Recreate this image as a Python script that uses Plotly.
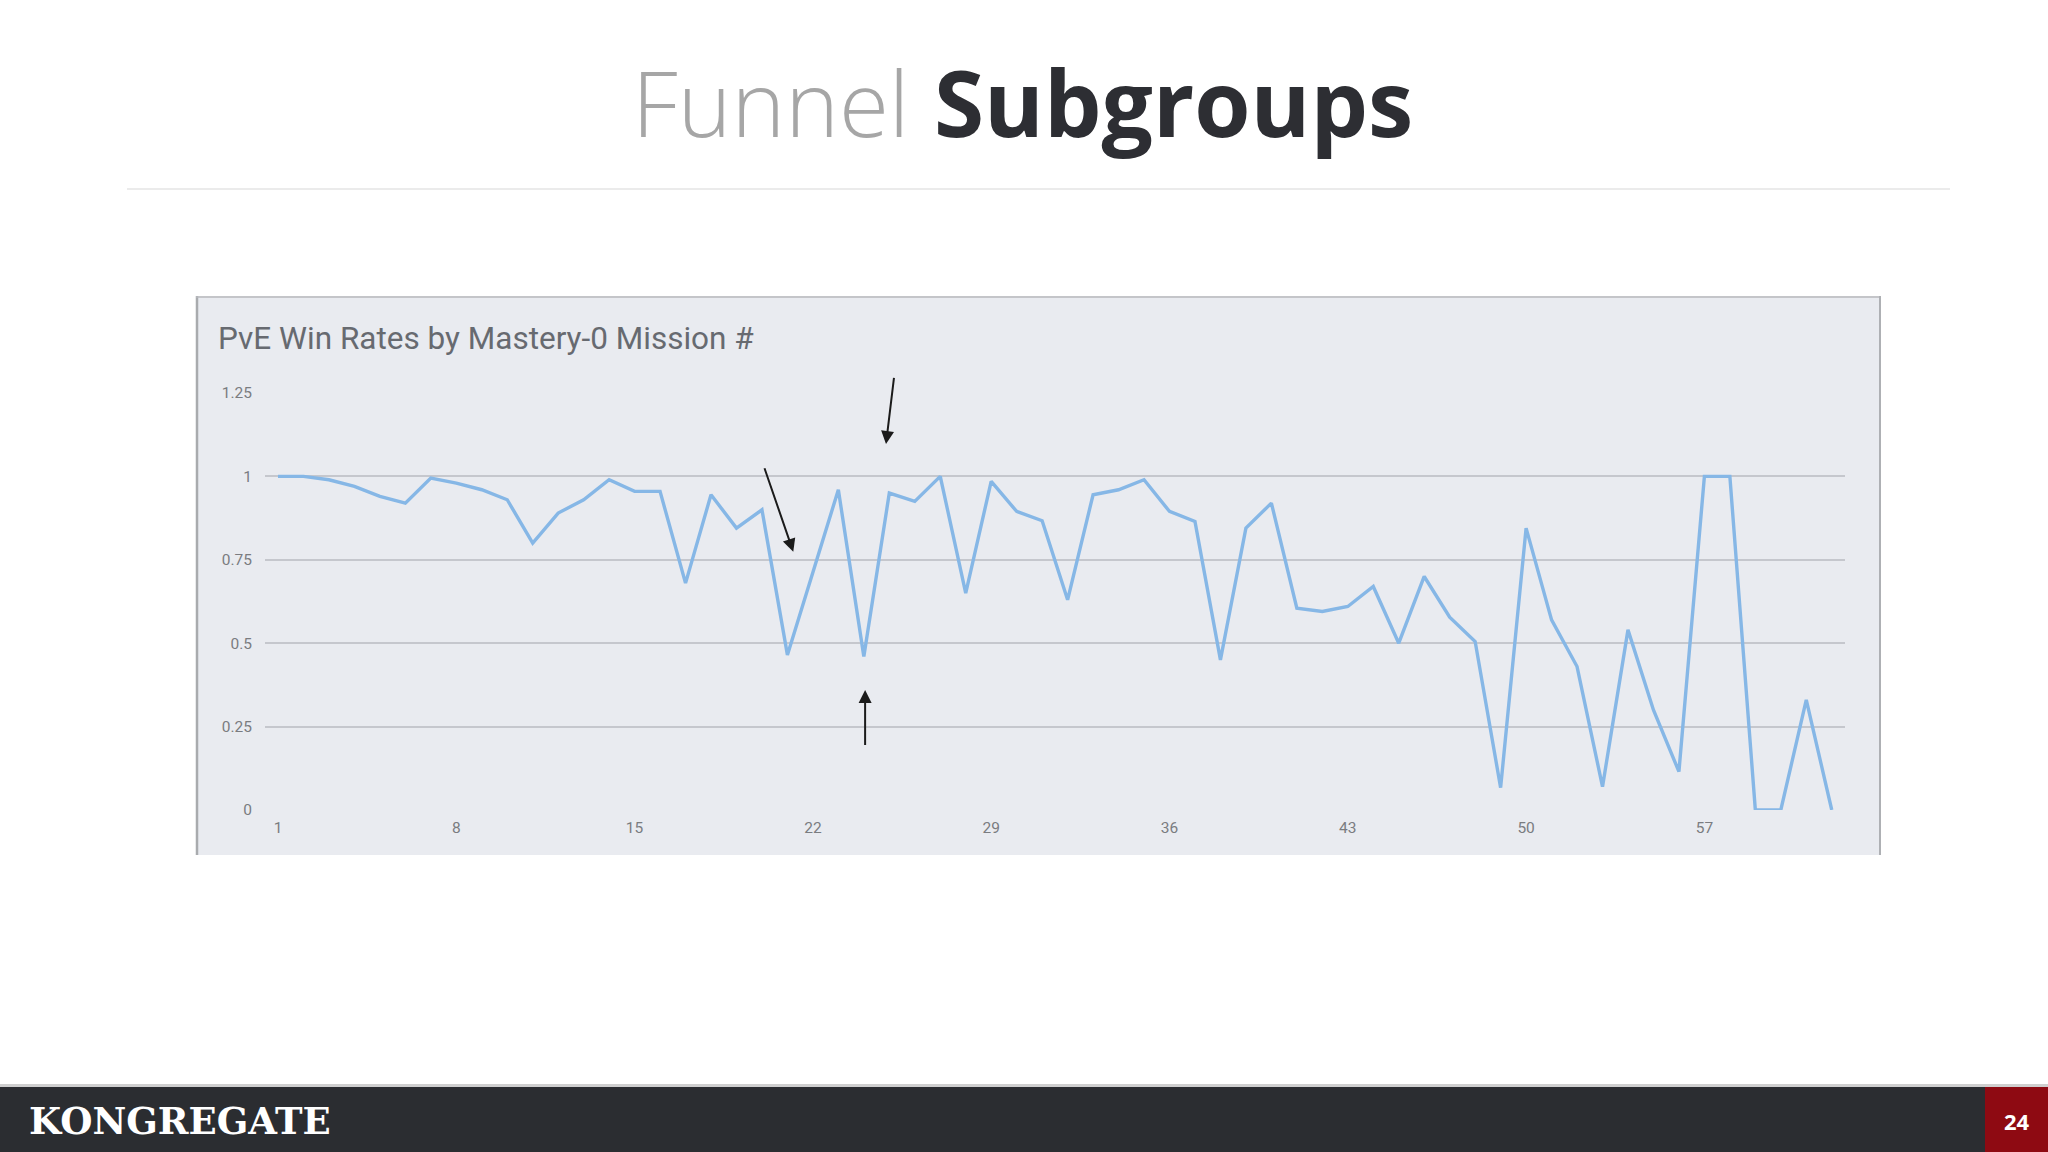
import plotly.graph_objects as go

W, H = 2048, 1152

missions = list(range(1, 63))
win_rate = [
    1.00, 1.00, 0.99, 0.97, 0.94, 0.92, 0.995, 0.98, 0.96, 0.93,
    0.80, 0.89, 0.93, 0.99, 0.955, 0.955, 0.68, 0.945, 0.845, 0.90,
    0.465, 0.71, 0.96, 0.46, 0.95, 0.925, 1.00, 0.65, 0.985, 0.895,
    0.867, 0.63, 0.945, 0.96, 0.99, 0.895, 0.865, 0.45, 0.845, 0.92,
    0.605, 0.595, 0.61, 0.67, 0.50, 0.70, 0.578, 0.505, 0.067, 0.845,
    0.57, 0.43, 0.07, 0.54, 0.30, 0.115, 1.00, 1.00, 0.0, 0.0,
    0.33, 0.0,
]
x_ticks = [1, 8, 15, 22, 29, 36, 43, 50, 57]
y_ticks = [0, 0.25, 0.5, 0.75, 1, 1.25]
y_tick_text = ["0", "0.25", "0.5", "0.75", "1", "1.25"]

# arrows: (head mission, head value, tail mission, tail value)
arrows = [
    (21.23, 0.774, 20.08, 1.029),
    (24.87, 1.097, 25.19, 1.30),
    (24.05, 0.36, 24.05, 0.19),
]

# plot area in pixels
L, R, T, B = 265, 1845, 393, 810
ML, MR, MT, MB = L, W - R, T, H - B


def px(x):
    return (x - L) / (R - L)


def py(y):
    return (B - y) / (B - T)


fig = go.Figure()
fig.add_trace(go.Scatter(
    x=missions, y=win_rate, mode="lines",
    line=dict(color="#86b7e6", width=3.4),
    cliponaxis=False, hoverinfo="x+y",
))

shapes = [
    # chart card
    dict(type="rect", xref="paper", yref="paper", x0=px(196), x1=px(1880), y0=py(855), y1=py(296),
         fillcolor="#e9ebf0", line=dict(width=0), layer="below"),
    dict(type="line", xref="paper", yref="paper", x0=px(197), x1=px(197), y0=py(855), y1=py(296),
         line=dict(color="#a9abae", width=2.5), layer="below"),
    dict(type="line", xref="paper", yref="paper", x0=px(196), x1=px(1880), y0=py(297), y1=py(297),
         line=dict(color="#b7b9bd", width=1.5), layer="below"),
    dict(type="line", xref="paper", yref="paper", x0=px(1880), x1=px(1880), y0=py(855), y1=py(296),
         line=dict(color="#aeb0b4", width=2), layer="below"),
    # header divider
    dict(type="line", xref="paper", yref="paper", x0=px(127), x1=px(1950), y0=py(189), y1=py(189),
         line=dict(color="#ebebeb", width=2), layer="below"),
    # footer
    dict(type="rect", xref="paper", yref="paper", x0=px(0), x1=px(W), y0=py(H), y1=py(1087),
         fillcolor="#2b2d31", line=dict(width=0), layer="below"),
    dict(type="rect", xref="paper", yref="paper", x0=px(0), x1=px(W), y0=py(1087), y1=py(1084),
         fillcolor="#cfcfcf", line=dict(width=0), layer="below"),
    dict(type="rect", xref="paper", yref="paper", x0=px(1985), x1=px(W), y0=py(H), y1=py(1087),
         fillcolor="#8e0a12", line=dict(width=0), layer="below"),
]

annotations = [
    dict(text="Funnel", xref="paper", yref="paper", x=px(911), y=py(102), xanchor="right", yanchor="middle",
         showarrow=False, font=dict(family="Open Sans", size=91, color="#a6a6a6", weight=300)),
    dict(text="<b>Subgroups</b>", xref="paper", yref="paper", x=px(932), y=py(102), xanchor="left",
         yanchor="middle", showarrow=False, font=dict(family="Open Sans", size=91, color="#2d2e33")),
    dict(text="PvE Win Rates by Mastery-0 Mission #", xref="paper", yref="paper", x=px(216), y=py(339),
         xanchor="left", yanchor="middle", showarrow=False,
         font=dict(family="Roboto", size=31.5, color="#676a70")),
    dict(text="<b>KONGREGATE</b>", xref="paper", yref="paper", x=px(27), y=py(1121), xanchor="left",
         yanchor="middle", showarrow=False, font=dict(family="DejaVu Serif", size=37, color="#ffffff")),
    dict(text="<b>24</b>", xref="paper", yref="paper", x=px(2017), y=py(1121), xanchor="center",
         yanchor="middle", showarrow=False, font=dict(family="Open Sans", size=22, color="#ffffff")),
]
for hx, hy, tx, ty in arrows:
    annotations.append(dict(
        x=hx, y=hy, xref="x", yref="y", ax=tx, ay=ty, axref="x", ayref="y",
        text="", showarrow=True, arrowhead=2, arrowsize=1.3, arrowwidth=2, arrowcolor="#1b1b1b",
    ))

fig.update_layout(
    width=W, height=H,
    margin=dict(l=ML, r=MR, t=MT, b=MB, pad=0),
    paper_bgcolor="#ffffff",
    plot_bgcolor="rgba(0,0,0,0)",
    showlegend=False,
    shapes=shapes,
    annotations=annotations,
    xaxis=dict(
        range=[0.49, 62.52], tickvals=x_ticks, showgrid=False, zeroline=False, showline=False,
        ticks="", tickfont=dict(family="Roboto", size=15.5, color="#7a7c80"), ticklabelstandoff=6,
    ),
    yaxis=dict(
        range=[0, 1.25], tickvals=y_ticks, ticktext=y_tick_text, showgrid=True, gridcolor="#c5c7cd",
        gridwidth=1.5, zeroline=False, showline=False, ticks="",
        tickfont=dict(family="Roboto", size=15.5, color="#7a7c80"), ticklabelstandoff=12,
    ),
)

fig.write_html("out.html", config={"displayModeBar": False},
               post_script="document.body.style.margin='0';")
